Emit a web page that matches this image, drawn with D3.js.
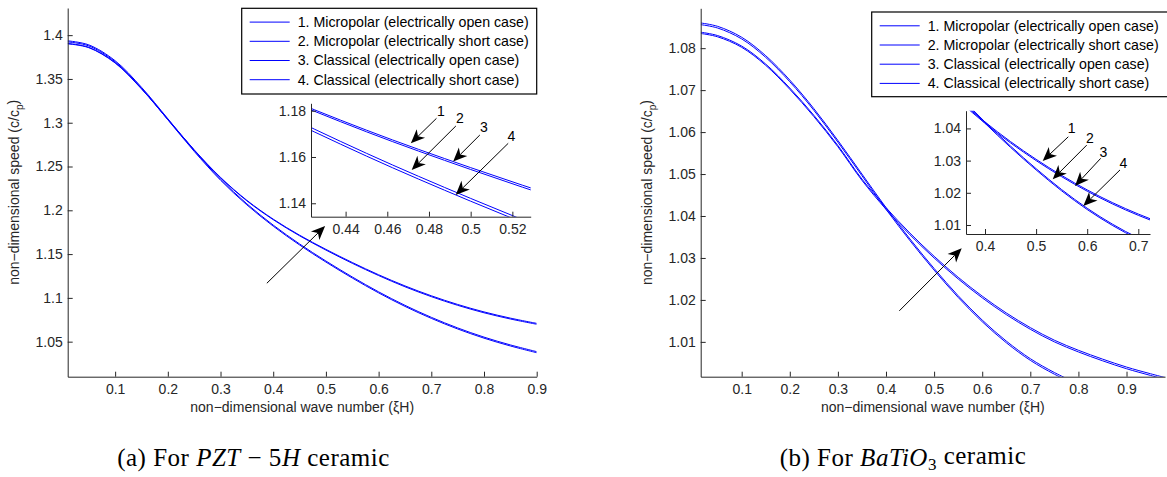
<!DOCTYPE html>
<html>
<head>
<meta charset="utf-8">
<script src="https://cdn.jsdelivr.net/npm/d3@7"></script>
<style>
body { margin: 0; background: #fff; }
text { font-family: "Liberation Sans", Arial, Helvetica, sans-serif; }
</style>
</head>
<body>
<svg id="chart" width="1167" height="477"></svg>
<script>
// ---- data ----
// (a) PZT-5H
var pztX = [0.01, 0.05, 0.1, 0.15, 0.2, 0.25, 0.3, 0.35, 0.4, 0.45, 0.5, 0.55, 0.6, 0.65, 0.7, 0.75, 0.8, 0.85, 0.9];
var pztMicroOpen  = [1.3905, 1.3861, 1.3686, 1.3391, 1.3041, 1.2691, 1.2376, 1.2114, 1.1899, 1.1716, 1.1554, 1.1404, 1.1264, 1.1137, 1.1024, 1.0925, 1.0840, 1.0769, 1.0709];
var pztMicroShort = [1.3935, 1.3889, 1.3708, 1.3405, 1.3046, 1.2685, 1.2356, 1.2074, 1.1831, 1.1616, 1.1421, 1.1239, 1.1069, 1.0915, 1.0778, 1.0657, 1.0552, 1.0463, 1.0386];
var pztClassOpen  = [1.3901, 1.3857, 1.3682, 1.3386, 1.3036, 1.2686, 1.2371, 1.2108, 1.1893, 1.1709, 1.1546, 1.1395, 1.1255, 1.1127, 1.1014, 1.0915, 1.0830, 1.0759, 1.0699];
var pztClassShort = [1.3923, 1.3877, 1.3696, 1.3393, 1.3034, 1.2673, 1.2344, 1.2062, 1.1819, 1.1604, 1.1409, 1.1227, 1.1057, 1.0903, 1.0766, 1.0645, 1.0540, 1.0451, 1.0374];

// (b) BaTiO3 (null = below the visible axis)
var batX = [0.015, 0.05, 0.1, 0.15, 0.2, 0.25, 0.3, 0.35, 0.4, 0.45, 0.5, 0.55, 0.6, 0.65, 0.7, 0.75, 0.8, 0.85, 0.9, 0.95, 0.98];
var batMicroOpen  = [1.0838, 1.0830, 1.0805, 1.0762, 1.0705, 1.0640, 1.0568, 1.0488, 1.0420, 1.0359, 1.0304, 1.0254, 1.0209, 1.0169, 1.0134, 1.0104, 1.0080, 1.0059, 1.0040, 1.0024, 1.0015];
var batMicroShort = [1.0860, 1.0852, 1.0826, 1.0782, 1.0724, 1.0656, 1.0580, 1.0500, 1.0420, 1.0345, 1.0275, 1.0210, 1.0152, 1.0102, 1.0060, 1.0027, 1.0000, null, null, null, null];
var batClassOpen  = [1.0835, 1.0827, 1.0802, 1.0759, 1.0702, 1.0637, 1.0565, 1.0485, 1.0416, 1.0355, 1.0300, 1.0250, 1.0205, 1.0165, 1.0130, 1.0100, 1.0076, 1.0055, 1.0036, 1.0020, 1.0011];
var batClassShort = [1.0856, 1.0848, 1.0822, 1.0778, 1.0720, 1.0652, 1.0576, 1.0496, 1.0416, 1.0341, 1.0271, 1.0206, 1.0148, 1.0098, 1.0056, 1.0023, 0.9996, null, null, null, null];

var legendLabels = [
  "1. Micropolar (electrically open case)",
  "2. Micropolar (electrically short case)",
  "3. Classical (electrically open case)",
  "4. Classical (electrically short case)"
];

// tick labels
var pztXTicks = [0.1, 0.2, 0.3, 0.4, 0.5, 0.6, 0.7, 0.8, 0.9];
var pztYTicks = [1.05, 1.1, 1.15, 1.2, 1.25, 1.3, 1.35, 1.4];
var pztInsetXTicks = [0.44, 0.46, 0.48, 0.5, 0.52];
var pztInsetYTicks = [1.14, 1.16, 1.18];
var batXTicks = [0.1, 0.2, 0.3, 0.4, 0.5, 0.6, 0.7, 0.8, 0.9];
var batYTicks = [1.01, 1.02, 1.03, 1.04, 1.05, 1.06, 1.07, 1.08];
var batInsetXTicks = [0.4, 0.5, 0.6, 0.7];
var batInsetYTicks = [1.01, 1.02, 1.03, 1.04];

// curve labels inside the insets: [label x, label y, tail x, tail y, head x, head y] in inset data units
var pztCallouts = [
  [0.4857, 1.1800, 0.4836, 1.1767, 0.4713, 1.1659],
  [0.4948, 1.1767, 0.4929, 1.1734, 0.4717, 1.1544],
  [0.5063, 1.1728, 0.5044, 1.1695, 0.4916, 1.1580],
  [0.5196, 1.1691, 0.5180, 1.1659, 0.4928, 1.1436]
];
var batCallouts = [
  [0.5697, 1.0400, 0.5630, 1.0374, 0.5129, 1.0299],
  [0.6055, 1.0369, 0.5990, 1.0348, 0.5325, 1.0242],
  [0.6315, 1.0327, 0.6264, 1.0307, 0.5761, 1.0221],
  [0.6706, 1.0293, 0.6642, 1.0271, 0.5924, 1.0159]
];
// zoom arrow in main axes units: [tail x, tail y, head x, head y]
var pztZoomArrow = [0.3879, 1.1167, 0.4985, 1.1821];
var batZoomArrow = [0.4277, 1.0174, 0.5574, 1.0323];

var svg = d3.select("#chart");
svg.append("rect").attr("width", 1167).attr("height", 477).attr("fill", "white");

var axisColor = "#262626";
function fmt(d) { return String(+d.toFixed(3)); }

function drawArrow(g, x1, y1, x2, y2) {
  var dx = x2 - x1, dy = y2 - y1, len = Math.hypot(dx, dy);
  var ux = dx / len, uy = dy / len;
  var L = 14, w = 6, notch = 10;
  g.append("line")
    .attr("x1", x1).attr("y1", y1)
    .attr("x2", x2 - ux * notch).attr("y2", y2 - uy * notch)
    .attr("stroke", "black").attr("stroke-width", 1);
  var bx = x2 - ux * L, by = y2 - uy * L;
  var pts = [[x2, y2], [bx - uy * w, by + ux * w], [x2 - ux * notch, y2 - uy * notch], [bx + uy * w, by - ux * w]];
  g.append("path").attr("d", "M" + pts.join("L") + "Z").attr("fill", "black");
}

function styleAxis(sel) {
  sel.select(".domain").attr("stroke", axisColor);
  sel.selectAll(".tick line").attr("stroke", axisColor);
  sel.selectAll(".tick text").attr("fill", axisColor).style("font-size", "14px");
}

function drawAxes(g, x, y, box, xTicks, yTicks) {
  g.append("g")
    .attr("transform", `translate(0,${box.y1})`)
    .call(d3.axisBottom(x).tickValues(xTicks).tickFormat(fmt).tickSize(-5).tickSizeOuter(0).tickPadding(7))
    .call(styleAxis);
  g.append("g")
    .attr("transform", `translate(${box.x0},0)`)
    .call(d3.axisLeft(y).tickValues(yTicks).tickFormat(fmt).tickSize(-5).tickSizeOuter(0).tickPadding(5))
    .call(styleAxis);
}

function drawCurves(g, x, y, xs, series, clipId) {
  var line = d3.line()
    .defined(d => d[1] != null)
    .curve(d3.curveCatmullRom.alpha(0.5))
    .x(d => x(d[0]))
    .y(d => y(d[1]));
  g.append("g").attr("clip-path", `url(#${clipId})`)
    .selectAll("path")
    .data(series)
    .join("path")
    .attr("fill", "none")
    .attr("stroke", "#0000ff")
    .attr("stroke-width", 1)
    .attr("d", s => line(xs.map((v, i) => [v, s[i]])));
}

function addClip(id, box) {
  svg.append("clipPath").attr("id", id)
    .append("rect")
    .attr("x", box.x0).attr("y", box.y0)
    .attr("width", box.x1 - box.x0).attr("height", box.y1 - box.y0);
}

function drawPanel(p) {
  var g = svg.append("g");
  var x = d3.scaleLinear().domain(p.xDomain).range([p.box.x0, p.box.x1]);
  var y = d3.scaleLinear().domain(p.yDomain).range([p.box.y1, p.box.y0]);
  addClip(p.id + "-main", p.box);

  drawCurves(g, x, y, p.xs, p.series, p.id + "-main");
  drawAxes(g, x, y, p.box, p.xTicks, p.yTicks);

  // axis labels
  g.append("text")
    .attr("x", (p.box.x0 + p.box.x1) / 2).attr("y", p.box.y1 + 35)
    .attr("text-anchor", "middle").attr("fill", axisColor).style("font-size", "14px")
    .text("non\u2212dimensional wave number (\u03beH)");
  var yl = g.append("text")
    .attr("transform", `translate(${p.yLabelX},${(p.box.y0 + p.box.y1) / 2}) rotate(-90)`)
    .attr("text-anchor", "middle").attr("fill", axisColor).style("font-size", "14px");
  yl.append("tspan").text("non\u2212dimensional speed (c/c");
  yl.append("tspan").attr("dy", "0.35em").style("font-size", "10px").text("p");
  yl.append("tspan").attr("dy", "-0.35em").text(")");

  // legend
  var lg = g.append("g");
  lg.append("rect")
    .attr("x", p.legend.x).attr("y", p.legend.y)
    .attr("width", p.legend.w).attr("height", p.legend.h)
    .attr("fill", "white").attr("stroke", "black").attr("stroke-width", 1.2);
  legendLabels.forEach(function(t, i) {
    var ry = p.legend.y + 13.8 + i * 19.2;
    lg.append("line")
      .attr("x1", p.legend.x + 8).attr("x2", p.legend.x + 48)
      .attr("y1", ry).attr("y2", ry)
      .attr("stroke", "#0000ff").attr("stroke-width", 1);
    lg.append("text")
      .attr("x", p.legend.x + 56).attr("y", ry).attr("dy", "0.35em")
      .attr("fill", "black").style("font-size", "14.2px")
      .text(t);
  });

  // zoom arrow
  var za = p.zoomArrow;
  drawArrow(g, x(za[0]), y(za[1]), x(za[2]), y(za[3]));

  // inset
  var ib = p.inset;
  var ix = d3.scaleLinear().domain(p.insetX).range([ib.x0, ib.x1]);
  var iy = d3.scaleLinear().domain(p.insetY).range([ib.y1, ib.y0]);
  addClip(p.id + "-inset", ib);
  g.append("rect")
    .attr("x", ib.x0).attr("y", ib.y0)
    .attr("width", ib.x1 - ib.x0).attr("height", ib.y1 - ib.y0)
    .attr("fill", "white");
  drawCurves(g, ix, iy, p.xs, p.series, p.id + "-inset");
  drawAxes(g, ix, iy, ib, p.insetXTicks, p.insetYTicks);

  p.callouts.forEach(function(c, i) {
    g.append("text")
      .attr("x", ix(c[0])).attr("y", iy(c[1])).attr("dy", "0.35em")
      .attr("text-anchor", "middle").attr("fill", "black").style("font-size", "14px")
      .text(i + 1);
    drawArrow(g, ix(c[2]), iy(c[3]), ix(c[4]), iy(c[5]));
  });

  // caption
  var cap = g.append("text")
    .attr("x", p.captionX).attr("y", 466)
    .attr("text-anchor", "middle")
    .style("font-family", "'Liberation Serif', 'Times New Roman', serif")
    .style("font-size", "25px").style("letter-spacing", "0.5px").attr("fill", "black");
  p.caption(cap);
}

drawPanel({
  id: "pzt",
  xs: pztX,
  series: [pztMicroOpen, pztMicroShort, pztClassOpen, pztClassShort],
  xDomain: [0.01, 0.9], yDomain: [1.01, 1.431],
  box: { x0: 67.7, x1: 536.7, y0: 8, y1: 376.7 },
  xTicks: pztXTicks, yTicks: pztYTicks,
  yLabelX: 19,
  legend: { x: 241.7, y: 8.3, w: 295, h: 85.7 },
  zoomArrow: pztZoomArrow,
  inset: { x0: 311, x1: 530.7, y0: 103.3, y1: 216.7 },
  insetX: [0.4234, 0.5288], insetY: [1.1342, 1.1832],
  insetXTicks: pztInsetXTicks, insetYTicks: pztInsetYTicks,
  callouts: pztCallouts,
  captionX: 253.5,
  caption: function(t) {
    t.append("tspan").text("(a) For ");
    t.append("tspan").style("font-style", "italic").text("PZT");
    t.append("tspan").text(" \u2212 5");
    t.append("tspan").style("font-style", "italic").text("H");
    t.append("tspan").text(" ceramic");
  }
});

drawPanel({
  id: "bat",
  xs: batX,
  series: [batMicroOpen, batMicroShort, batClassOpen, batClassShort],
  xDomain: [0.0148, 0.98], yDomain: [1.0017, 1.0895],
  box: { x0: 700.7, x1: 1165, y0: 8.3, y1: 376.7 },
  xTicks: batXTicks, yTicks: batYTicks,
  yLabelX: 652,
  legend: { x: 871.7, y: 12, w: 297, h: 84.7 },
  zoomArrow: batZoomArrow,
  inset: { x0: 966, x1: 1150, y0: 110.7, y1: 234 },
  insetX: [0.3628, 0.7229], insetY: [1.0072, 1.0455],
  insetXTicks: batInsetXTicks, insetYTicks: batInsetYTicks,
  callouts: batCallouts,
  captionX: 903,
  caption: function(t) {
    t.append("tspan").text("(b) For ");
    t.append("tspan").style("font-style", "italic").text("BaTiO");
    t.append("tspan").attr("dy", "0.22em").style("font-size", "17px").text("3");
    t.append("tspan").attr("dy", "-0.22em").text(" ceramic");
  }
});
</script>
</body>
</html>
